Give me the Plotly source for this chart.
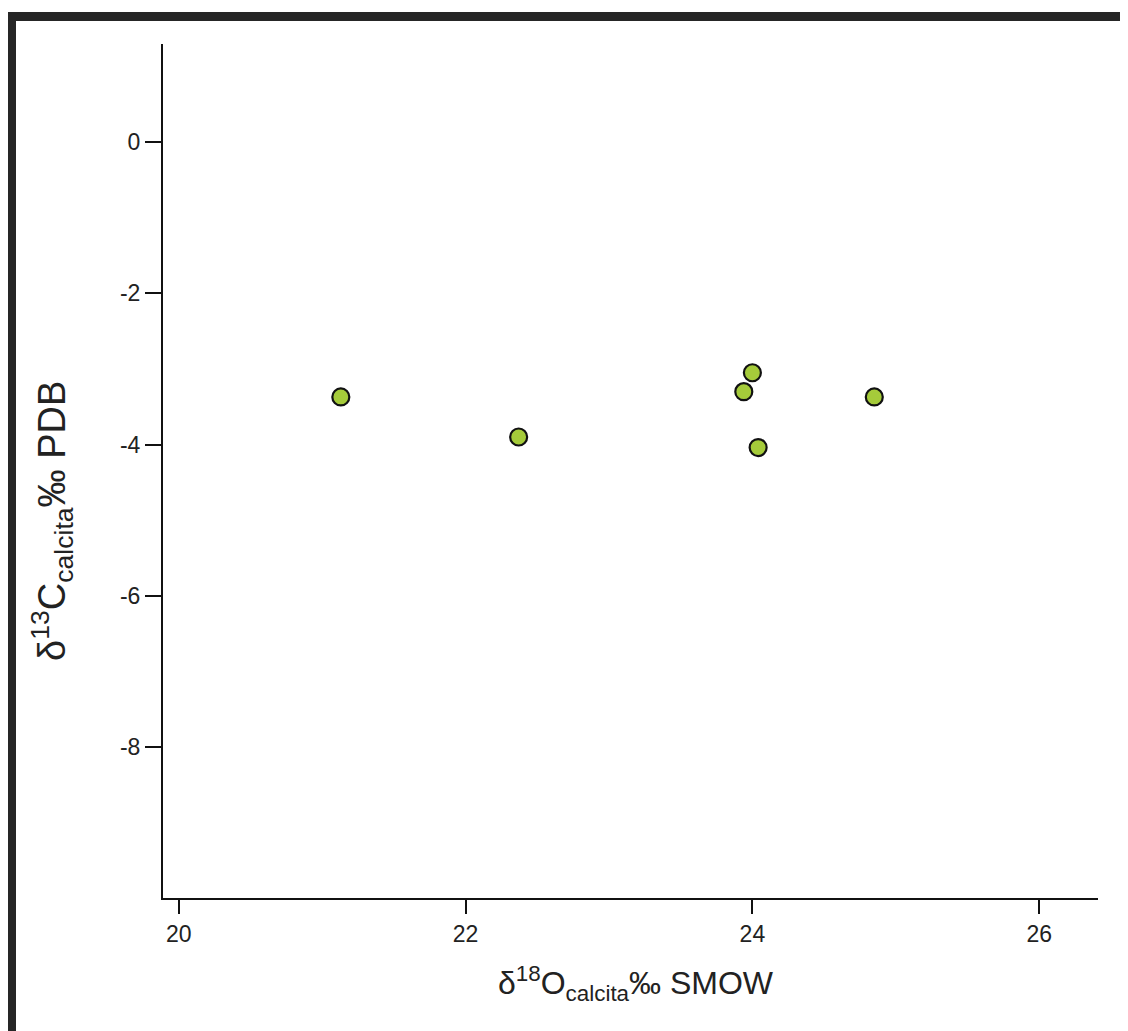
import plotly.graph_objects as go

# Data
d18O = [21.13, 22.37, 23.94, 24.00, 24.04, 24.85]
d13C = [-3.37, -3.90, -3.30, -3.05, -4.04, -3.37]

x_tickvals = [20, 22, 24, 26]
x_ticktext = ["20", "22", "24", "26"]
y_tickvals = [0, -2, -4, -6, -8]
y_ticktext = ["0", "-2", "-4", "-6", "-8"]

x_title = "δ<sup>18</sup>O<sub>calcita</sub>‰ SMOW"
y_title = "δ<sup>13</sup>C<sub>calcita</sub>‰ PDB"

# page has an 8px body margin; work in page pixels and convert
OFF = 8
W, H = 1128 - OFF, 1031 - OFF
L, T = 163 - OFF, 44 - OFF
pw, ph = 935, 854
R, B = W - L - pw, H - T - ph

def px(X):
    return (X - OFF - L) / pw

def py(Y):
    return (T + ph - (Y - OFF)) / ph

font_family = "Liberation Sans, Arial, sans-serif"

fig = go.Figure()
fig.add_trace(go.Scatter(
    x=d18O, y=d13C, mode="markers",
    marker=dict(size=17, color="#A5CB3A", line=dict(color="#111111", width=2.2)),
    showlegend=False,
))

axis_common = dict(
    showgrid=False, zeroline=False, showline=True, linecolor="#111111", linewidth=2,
    ticks="outside", tickcolor="#111111", tickwidth=2,
    tickfont=dict(family=font_family, size=23, color="#222222"),
)

fig.update_xaxes(range=[19.89, 26.41], tickvals=x_tickvals, ticktext=x_ticktext,
                 ticklen=14, **axis_common)
fig.update_yaxes(range=[-10.0, 1.3], tickvals=y_tickvals, ticktext=y_ticktext,
                 ticklen=16, **axis_common)

frame_color = "#262626"
fig.update_layout(
    width=W, height=H,
    margin=dict(l=L, r=R, t=T, b=B),
    paper_bgcolor="white", plot_bgcolor="white",
    shapes=[
        dict(type="rect", xref="paper", yref="paper", x0=px(7), x1=px(1140),
             y0=py(21), y1=py(12), fillcolor=frame_color, line=dict(width=0)),
        dict(type="rect", xref="paper", yref="paper", x0=px(7), x1=px(16),
             y0=py(1040), y1=py(12), fillcolor=frame_color, line=dict(width=0)),
    ],
    annotations=[
        dict(text=x_title, xref="paper", yref="paper", x=px(636), y=py(984),
             xanchor="center", yanchor="middle", showarrow=False,
             font=dict(family=font_family, size=32, color="#222222")),
        dict(text=y_title, xref="paper", yref="paper", x=px(52), y=py(521),
             xanchor="center", yanchor="middle", showarrow=False, textangle=-90,
             font=dict(family=font_family, size=38, color="#222222")),
    ],
)

fig.write_html("out.html")
